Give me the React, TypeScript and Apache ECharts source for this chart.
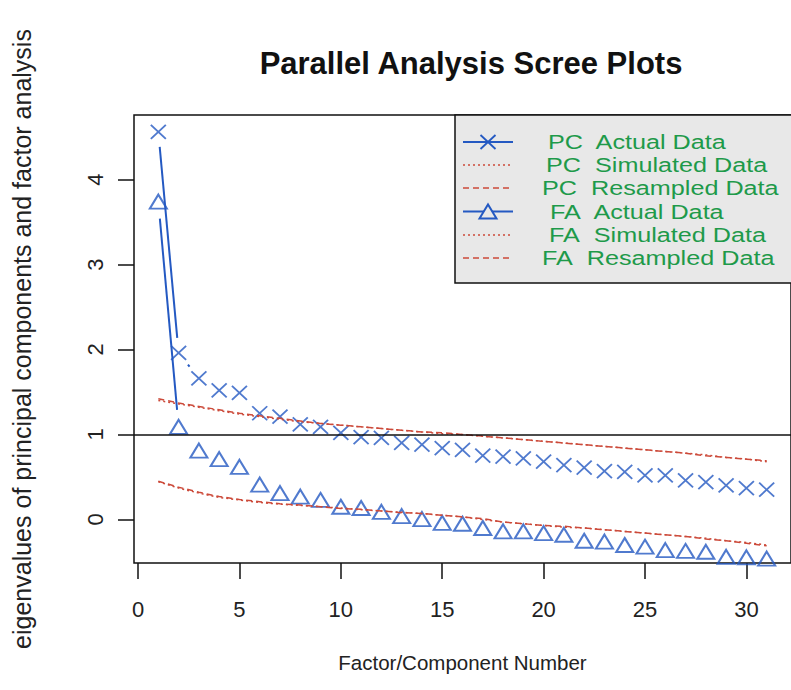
import React, { useEffect, useRef } from "react";
import * as echarts from "echarts";

const factorNumbers = [1, 2, 3, 4, 5, 6, 7, 8, 9, 10, 11, 12, 13, 14, 15, 16, 17, 18, 19, 20, 21, 22, 23, 24, 25, 26, 27, 28, 29, 30, 31];

const pcActual = [4.56, 1.96, 1.66, 1.52, 1.49, 1.25, 1.21, 1.12, 1.09, 1.02, 0.97, 0.96, 0.9, 0.88, 0.84, 0.82, 0.75, 0.74, 0.72, 0.68, 0.64, 0.61, 0.57, 0.56, 0.52, 0.52, 0.46, 0.44, 0.4, 0.37, 0.35];
const pcSimulated = [1.4, 1.36, 1.32, 1.28, 1.24, 1.21, 1.18, 1.15, 1.13, 1.11, 1.09, 1.07, 1.05, 1.03, 1.01, 1.0, 0.98, 0.96, 0.94, 0.92, 0.9, 0.88, 0.86, 0.84, 0.82, 0.8, 0.78, 0.76, 0.73, 0.71, 0.68];
const pcResampled = [1.42, 1.37, 1.33, 1.29, 1.25, 1.22, 1.19, 1.16, 1.13, 1.11, 1.09, 1.07, 1.05, 1.03, 1.02, 1.0, 0.98, 0.96, 0.94, 0.92, 0.9, 0.88, 0.86, 0.84, 0.82, 0.8, 0.78, 0.75, 0.73, 0.71, 0.69];
const faActual = [3.74, 1.09, 0.81, 0.71, 0.62, 0.41, 0.31, 0.27, 0.23, 0.15, 0.135, 0.09, 0.04, 0.005, -0.04, -0.05, -0.1, -0.14, -0.14, -0.16, -0.18, -0.25, -0.26, -0.3, -0.32, -0.36, -0.37, -0.38, -0.44, -0.445, -0.46];
const faSimulated = [0.445, 0.37, 0.31, 0.26, 0.23, 0.2, 0.18, 0.165, 0.15, 0.135, 0.115, 0.1, 0.085, 0.07, 0.05, 0.03, 0.0, -0.03, -0.05, -0.07, -0.09, -0.1, -0.12, -0.14, -0.16, -0.18, -0.2, -0.22, -0.25, -0.27, -0.3];
const faResampled = [0.45, 0.38, 0.32, 0.27, 0.235, 0.21, 0.185, 0.17, 0.15, 0.13, 0.12, 0.1, 0.08, 0.07, 0.05, 0.03, 0.01, -0.03, -0.05, -0.07, -0.08, -0.1, -0.12, -0.14, -0.16, -0.18, -0.2, -0.23, -0.25, -0.28, -0.31];

const xTickValues = [0, 5, 10, 15, 20, 25, 30];
const yTickValues = [0, 1, 2, 3, 4];

const legendLabels = [
  "PC\u00a0 Actual Data",
  "PC\u00a0 Simulated Data",
  "PC\u00a0 Resampled Data",
  "FA\u00a0 Actual Data",
  "FA\u00a0 Simulated Data",
  "FA\u00a0 Resampled Data",
];

const BLUE = "#2459c2";
const RED = "#cc4a3a";
const GREEN = "#1e9a4a";
const INK = "#111111";
const FONT = "'Liberation Sans', Arial, Helvetica, sans-serif";

function pairs(vals: number[]) {
  return vals.map((v, i) => [factorNumbers[i], v]);
}

function segmentSeries(vals: number[], gap: number) {
  const data = vals.slice(0, -1).map((v, i) => [factorNumbers[i], v, factorNumbers[i + 1], vals[i + 1]]);
  return {
    type: "custom",
    data,
    encode: { x: [0, 2], y: [1, 3] },
    silent: true,
    renderItem: (_params: any, api: any) => {
      const a = api.coord([api.value(0), api.value(1)]);
      const b = api.coord([api.value(2), api.value(3)]);
      const dx = b[0] - a[0];
      const dy = b[1] - a[1];
      const len = Math.hypot(dx, dy);
      if (len <= 2 * gap) return { type: "group", children: [] };
      const ux = dx / len;
      const uy = dy / len;
      return {
        type: "line",
        shape: { x1: a[0] + ux * gap, y1: a[1] + uy * gap, x2: b[0] - ux * gap, y2: b[1] - uy * gap },
        style: { stroke: BLUE, lineWidth: 2 },
      };
    },
  };
}

function buildLegend() {
  const rowsY = [142, 165, 188, 211.5, 235, 258];
  const textX = [548, 546, 542, 550, 549, 542];
  const x1 = 463;
  const x2 = 513;
  const cx = 488;
  const els: any[] = [
    {
      type: "rect",
      shape: { x: 455, y: 115, width: 345, height: 168 },
      style: { fill: "#e8e8e8", stroke: INK, lineWidth: 1.5 },
      z: 10,
    },
  ];
  const kinds = ["pc", "sim", "res", "fa", "sim", "res"];
  kinds.forEach((k, i) => {
    const y = rowsY[i];
    if (k === "pc" || k === "fa") {
      els.push({ type: "line", shape: { x1, y1: y, x2, y2: y }, style: { stroke: BLUE, lineWidth: 2 }, z: 11 });
    } else {
      els.push({
        type: "line",
        shape: { x1, y1: y, x2, y2: y },
        style: { stroke: RED, lineWidth: 1.5, lineDash: k === "sim" ? [2, 3] : [6, 4] },
        z: 11,
      });
    }
    if (k === "pc") {
      els.push({ type: "line", shape: { x1: cx - 7.5, y1: y - 7, x2: cx + 7.5, y2: y + 7 }, style: { stroke: BLUE, lineWidth: 1.8 }, z: 12 });
      els.push({ type: "line", shape: { x1: cx + 7.5, y1: y - 7, x2: cx - 7.5, y2: y + 7 }, style: { stroke: BLUE, lineWidth: 1.8 }, z: 12 });
    }
    if (k === "fa") {
      els.push({
        type: "polygon",
        shape: { points: [[cx - 8.5, y + 7], [cx, y - 7], [cx + 8.5, y + 7]] },
        style: { fill: "#e8e8e8", stroke: BLUE, lineWidth: 2 },
        z: 12,
      });
    }
    els.push({
      type: "text",
      x: textX[i],
      y,
      scaleX: 1.2,
      style: {
        text: legendLabels[i],
        fill: GREEN,
        font: `21px ${FONT}`,
        textVerticalAlign: "middle",
        verticalAlign: "middle",
        textAlign: "left",
      },
      z: 12,
    });
  });
  return els;
}

export default function App() {
  const ref = useRef<HTMLDivElement>(null);
  useEffect(() => {
    if (!ref.current) return;
    const chart = echarts.init(ref.current, undefined, { renderer: "svg" });
    const option: any = {
      animation: false,
      backgroundColor: "#ffffff",
      title: {
        text: "Parallel Analysis Scree Plots",
        left: 466,
        top: 43,
        textAlign: "center",
        textStyle: { fontFamily: FONT, fontSize: 31, fontWeight: "bold", color: INK },
      },
      grid: {
        left: 134,
        top: 115,
        width: 663,
        height: 448,
        show: true,
        borderColor: INK,
        borderWidth: 1.5,
        backgroundColor: "transparent",
        containLabel: false,
      },
      xAxis: {
        type: "value",
        min: -0.2,
        max: 32.2,
        name: "Factor/Component Number",
        nameLocation: "middle",
        nameGap: 89,
        nameTextStyle: { fontFamily: FONT, fontSize: 20.5, color: "#222" },
        axisLine: { show: false, onZero: false },
        splitLine: { show: false },
        axisTick: { show: true, length: 16, lineStyle: { color: INK, width: 1.5 }, customValues: xTickValues },
        axisLabel: { customValues: xTickValues, margin: 35, fontSize: 22, color: "#222", fontFamily: FONT },
      },
      yAxis: {
        type: "value",
        min: -0.512,
        max: 4.759,
        name: "eigenvalues of principal components and factor analysis",
        nameLocation: "middle",
        nameGap: 100,
        nameTextStyle: { fontFamily: FONT, fontSize: 25, color: "#222" },
        axisLine: { show: false, onZero: false },
        splitLine: { show: false },
        axisTick: { show: true, length: 16, lineStyle: { color: INK, width: 1.5 }, customValues: yTickValues },
        axisLabel: { customValues: yTickValues, rotate: 90, margin: 28, fontSize: 22, color: "#222", fontFamily: FONT },
      },
      series: [
        {
          name: "PC Simulated Data",
          type: "line",
          data: pairs(pcSimulated),
          symbol: "none",
          lineStyle: { color: RED, width: 1.5, type: [2, 3] },
          markLine: {
            silent: true,
            symbol: ["none", "none"],
            label: { show: false },
            lineStyle: { color: INK, width: 1.5, type: "solid" },
            data: [{ yAxis: 1 }],
          },
        },
        {
          name: "PC Resampled Data",
          type: "line",
          data: pairs(pcResampled),
          symbol: "none",
          lineStyle: { color: RED, width: 1.5, type: [6, 4] },
        },
        {
          name: "FA Simulated Data",
          type: "line",
          data: pairs(faSimulated),
          symbol: "none",
          lineStyle: { color: RED, width: 1.5, type: [2, 3] },
        },
        {
          name: "FA Resampled Data",
          type: "line",
          data: pairs(faResampled),
          symbol: "none",
          lineStyle: { color: RED, width: 1.5, type: [6, 4] },
        },
        segmentSeries(pcActual, 15),
        segmentSeries(faActual, 17),
        {
          name: "PC Actual Data",
          type: "scatter",
          data: pairs(pcActual),
          symbol: "path://M0,0L10,10M10,0L0,10",
          symbolSize: [15, 14],
          itemStyle: { color: "transparent", borderColor: BLUE, borderWidth: 1.8 },
        },
        {
          name: "FA Actual Data",
          type: "scatter",
          data: pairs(faActual),
          symbol: "triangle",
          symbolSize: [17, 14],
          itemStyle: { color: "transparent", borderColor: BLUE, borderWidth: 2 },
        },
      ],
      graphic: buildLegend(),
    };
    chart.setOption(option);
    return () => chart.dispose();
  }, []);
  return <div ref={ref} style={{ position: "absolute", left: 0, top: 0, width: 791, height: 690 }} />;
}
